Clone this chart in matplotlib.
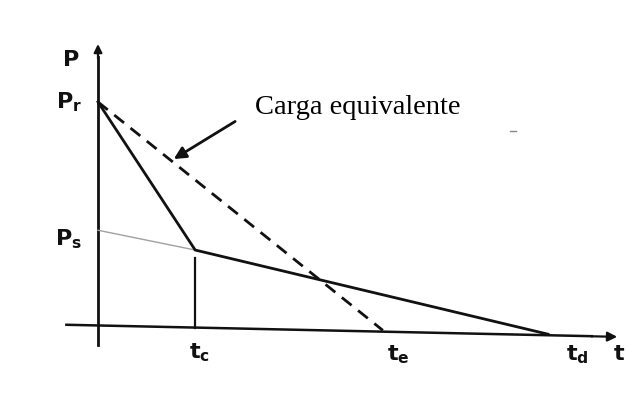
import matplotlib
matplotlib.use("Agg")
import matplotlib.pyplot as plt

plt.rcParams["mathtext.fontset"] = "dejavusans"

# diagram values (t normalised so t_d = 1, p normalised so P_r = 1)
t_c = 0.216
t_e = 0.633
t_d = 1.0
p_r = 1.0
p_s = 0.43
p_c = 0.342    # pressure at t_c
p_td = -0.032  # the time axis of the scan is slightly tilted
p_te = -0.015

solid_t = [0.0, t_c, t_d]
solid_p = [p_r, p_c, p_td]
dash_t = [0.0, t_e]
dash_p = [p_r, p_te]
gray_t = [0.0, t_c]
gray_p = [p_s, p_c]

fig = plt.figure(figsize=(6.27, 3.94), dpi=100)
ax = fig.add_axes([0, 0, 1, 1])
ax.set_xlim(-0.2178, 1.1756)
ax.set_ylim(-0.2978, 1.4533)
ax.axis("off")

k = "#111111"
# axes of the sketch
ax.plot([-0.073, 1.10], [0.01, -0.041], color=k, lw=1.8, solid_capstyle="butt")
ax.annotate("", xy=(1.16, -0.044), xytext=(1.09, -0.041),
            arrowprops=dict(arrowstyle="-|>", color=k, lw=1.6, mutation_scale=14))
ax.plot([0, 0], [-0.08, 1.2], color=k, lw=2.0)
ax.annotate("", xy=(0, 1.27), xytext=(0, 1.18),
            arrowprops=dict(arrowstyle="-|>", color=k, lw=1.6, mutation_scale=12))

ax.plot(gray_t, gray_p, color="#a0a0a0", lw=1.0)
ax.plot(solid_t, solid_p, color=k, lw=2.0, solid_joinstyle="miter")
ax.plot(dash_t, dash_p, color=k, lw=2.0, ls=(0, (4.5, 3)))
ax.plot([t_c, t_c], [-0.005, p_c - 0.035], color=k, lw=1.6)

# pointer to the equivalent load
ax.annotate("", xy=(0.163, 0.74), xytext=(0.31, 0.92),
            arrowprops=dict(arrowstyle="-|>", color=k, lw=2.0, mutation_scale=18))
ax.text(0.35, 0.975, "Carga equivalente", family="Liberation Serif",
        fontsize=20.5, color="black", va="center", ha="left")

lab = dict(fontsize=16, color=k, va="center", ha="center")
ax.text(-0.06, 1.185, r"$\mathbf{P}$", **lab)
ax.text(-0.065, 1.0, r"$\mathbf{P_r}$", **lab)
ax.text(-0.065, 0.39, r"$\mathbf{P_s}$", **lab)
ax.text(t_c + 0.01, -0.115, r"$\mathbf{t_c}$", **lab)
ax.text(t_e + 0.035, -0.125, r"$\mathbf{t_e}$", **lab)
ax.text(t_d + 0.065, -0.125, r"$\mathbf{t_d}$", **lab)
ax.text(1.158, -0.12, r"$\mathbf{t}$", **lab)
ax.plot([0.915, 0.93], [0.87, 0.87], color="#888888", lw=1)

fig.savefig("out.png", dpi=100)
